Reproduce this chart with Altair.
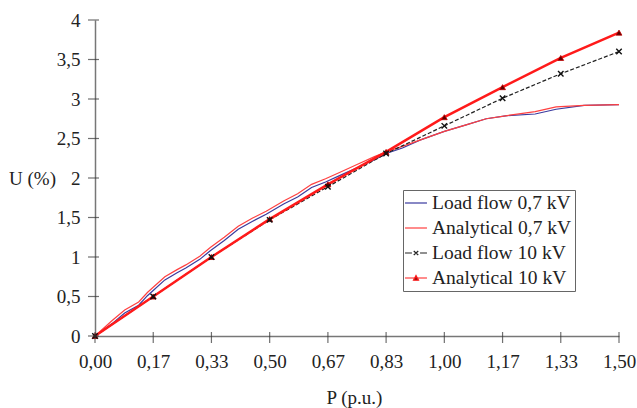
import altair as alt
import pandas as pd

# ---- data ----
P_TICKS = [0.0, 0.1667, 0.3333, 0.5, 0.6667, 0.8333, 1.0, 1.1667, 1.3333, 1.5]
U_TICKS = [0.0, 0.5, 1.0, 1.5, 2.0, 2.5, 3.0, 3.5, 4.0]

# 10 kV series (values at each P tick)
LF10 = [0, 0.50, 1.00, 1.47, 1.89, 2.31, 2.66, 3.01, 3.32, 3.60]
AN10 = [0, 0.50, 1.00, 1.48, 1.92, 2.33, 2.77, 3.15, 3.52, 3.84]

# 0.7 kV series (finer sampling)
P_07 = [0, 0.05, 0.085, 0.125, 0.15, 0.165, 0.20, 0.235, 0.26, 0.30,
        0.33, 0.37, 0.41, 0.45, 0.49, 0.54, 0.58, 0.62, 0.66, 0.70,
        0.75, 0.80, 0.84, 0.88, 0.93, 1.00, 1.06, 1.12, 1.18, 1.26,
        1.32, 1.40, 1.50]
LF07 = [0, 0.16, 0.29, 0.39, 0.51, 0.57, 0.71, 0.80, 0.86, 0.97,
        1.08, 1.21, 1.35, 1.45, 1.54, 1.67, 1.76, 1.88, 1.95, 2.03,
        2.13, 2.23, 2.32, 2.38, 2.48, 2.59, 2.67, 2.75, 2.79, 2.81,
        2.87, 2.92, 2.93]
AN07 = [0, 0.20, 0.33, 0.43, 0.55, 0.61, 0.75, 0.84, 0.90, 1.01,
        1.12, 1.25, 1.39, 1.49, 1.58, 1.71, 1.80, 1.92, 1.99, 2.07,
        2.17, 2.27, 2.34, 2.40, 2.48, 2.59, 2.67, 2.75, 2.79, 2.84,
        2.90, 2.92, 2.93]

SERIES = ["Load flow 0,7 kV", "Analytical 0,7 kV", "Load flow 10 kV", "Analytical 10 kV"]
COLORS = ["#3a3a9e", "#ff4040", "#222222", "#ff1a1a"]
LEG_FILL = ["transparent", "transparent", "transparent", "#5a0000"]
LEG_WIDTH = [1.2, 1.2, 1.2, 2.5]
LEG_SHAPES = [
    "M-1.22,0H1.22",
    "M-1.22,0H1.22",
    "M-1.22,0H-0.45M-0.25,-0.22L0.25,0.22M-0.25,0.22L0.25,-0.22M0.45,0H1.22",
    "M-1.22,0H1.22M-0.28,0.24L0,-0.28L0.28,0.24Z",
]

FONT = "Liberation Serif, Times New Roman, DejaVu Serif, serif"
FS = 19
TXT = "#222222"

df07_lf = pd.DataFrame({"P": P_07, "U": LF07})
df07_an = pd.DataFrame({"P": P_07, "U": AN07})
df10_lf = pd.DataFrame({"P": P_TICKS, "U": LF10})
df10_an = pd.DataFrame({"P": P_TICKS, "U": AN10})
df_leg = pd.DataFrame({"P": [0.0] * 4, "U": [0.0] * 4, "series": SERIES})
df_xt = pd.DataFrame({"P": P_TICKS})
df_yt = pd.DataFrame({"U": U_TICKS})

xs = alt.Scale(domain=[0, 1.5], nice=False, zero=False)
ys = alt.Scale(domain=[0, 4], nice=False, zero=False)

common_axis = dict(
    ticks=False, grid=False, labelOverlap=False, labelFlush=False,
    labelSeparation=0, labelBound=False,
    labelFont=FONT, labelFontSize=FS, labelColor=TXT,
    titleFont=FONT, titleFontSize=FS, titleFontWeight="normal", titleColor=TXT,
    domainColor="#777777", domainWidth=1.5,
)
x_axis = alt.Axis(
    values=P_TICKS, format=".2f",
    labelExpr="replace(datum.label, '.', ',')",
    labelPadding=16,
    title="P (p.u.)", titleX=259, titleY=61, titleBaseline="middle",
    titleAlign="center", **common_axis,
)
y_axis = alt.Axis(
    values=U_TICKS, format=".1~f",
    labelExpr="replace(datum.label, '.', ',')",
    labelPadding=15,
    title="U (%)", titleAngle=0, titleX=-63, titleY=158,
    titleBaseline="middle", titleAlign="center", **common_axis,
)

X = alt.X("P:Q", scale=xs, axis=x_axis)
Y = alt.Y("U:Q", scale=ys, axis=y_axis)

line_lf07 = alt.Chart(df07_lf).mark_line(color=COLORS[0], strokeWidth=1.2).encode(x=X, y=Y)
line_an07 = alt.Chart(df07_an).mark_line(color=COLORS[1], strokeWidth=1.2).encode(x=X, y=Y)
line_lf10 = alt.Chart(df10_lf).mark_line(color=COLORS[2], strokeWidth=1.2, strokeDash=[4, 2]).encode(x=X, y=Y)
line_an10 = alt.Chart(df10_an).mark_line(color=COLORS[3], strokeWidth=2.5).encode(x=X, y=Y)

pts_an10 = alt.Chart(df10_an).mark_point(
    shape="triangle-up", filled=True, fill="#5a0000", stroke="#c00000",
    strokeWidth=0.8, size=34, opacity=1,
).encode(x=X, y=Y)
pts_lf10 = alt.Chart(df10_lf).mark_point(
    shape="M-1,-1L1,1M-1,1L1,-1", filled=False, stroke="#111111",
    strokeWidth=1.4, size=30, opacity=1,
).encode(x=X, y=Y)

xticks = alt.Chart(df_xt).mark_tick(
    orient="vertical", size=11, thickness=1.2, color="#333333", yOffset=1.5
).encode(x=X, y=alt.datum(0, type="quantitative", scale=ys, axis=y_axis))
yticks = alt.Chart(df_yt).mark_tick(
    orient="horizontal", size=11, thickness=1.2, color="#333333", xOffset=-1.5
).encode(y=Y, x=alt.datum(0, type="quantitative", scale=xs, axis=x_axis))

legend = alt.Legend(
    title=None, orient="none", legendX=308, legendY=170,
    strokeColor="#666666", padding=3, rowPadding=5,
    symbolSize=324, labelFont=FONT, labelFontSize=19.5, labelOffset=6,
    labelColor=TXT, fillColor="white",
    labelExpr="datum.label + '\u2007\u2007'",
)
leg_layer = alt.Chart(df_leg).transform_filter("false").mark_point(opacity=1).encode(
    x=X, y=Y,
    stroke=alt.Stroke("series:N", scale=alt.Scale(domain=SERIES, range=COLORS), legend=legend),
    fill=alt.Fill("series:N", scale=alt.Scale(domain=SERIES, range=LEG_FILL), legend=legend),
    shape=alt.Shape("series:N", scale=alt.Scale(domain=SERIES, range=LEG_SHAPES), legend=legend),
    strokeWidth=alt.StrokeWidth("series:O", scale=alt.Scale(domain=SERIES, range=LEG_WIDTH), legend=legend),
)

chart = alt.layer(
    line_lf07, line_an07, line_lf10, line_an10, pts_an10, pts_lf10,
    xticks, yticks, leg_layer,
).properties(
    width=524, height=316,
    autosize=alt.AutoSizeParams(type="none"),
    padding={"left": 95, "top": 20, "right": 18, "bottom": 72},
    background="white",
).configure_view(stroke=None)

chart.save("out.html", embed_options={"renderer": "svg", "actions": False})
